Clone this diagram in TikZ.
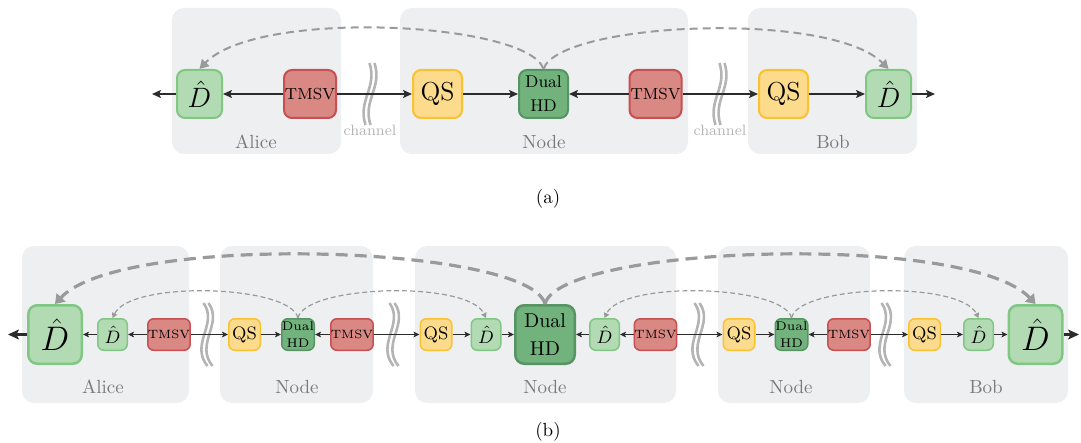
\RequirePackage{fix-cm}
\documentclass[tikz,border=0pt]{standalone}
\usepackage{tikz}
\usetikzlibrary{arrows.meta,calc}
\usepackage{xcolor}

\definecolor{panelbg}{HTML}{EEEFF1}
\definecolor{dhatfill}{HTML}{B2DBB4}
\definecolor{dhatline}{HTML}{7FC783}
\definecolor{hdfill}{HTML}{72B27C}
\definecolor{hdline}{HTML}{579463}
\definecolor{tmsvfill}{HTML}{D98883}
\definecolor{tmsvline}{HTML}{C65052}
\definecolor{qsfill}{HTML}{FDDB8C}
\definecolor{qsline}{HTML}{F9C233}
\definecolor{wiregray}{HTML}{2B2B2B}
\definecolor{classgray}{HTML}{9A9A9A}
\definecolor{labelgray}{HTML}{7A7A7A}
\definecolor{chgray}{HTML}{B4B4B4}

\begin{document}
\begin{tikzpicture}[x=0.5pt,y=-0.5pt,
    % boxes, row (a)
    dhat/.style={rounded corners=4pt, line width=1pt, inner sep=0pt, fill=dhatfill, draw=dhatline,
        minimum width=22.5pt, minimum height=24pt, font=\fontsize{14}{16}\selectfont},
    hd/.style={rounded corners=4pt, line width=1pt, inner sep=0pt, fill=hdfill, draw=hdline,
        minimum width=24.5pt, minimum height=24pt, align=center, font=\fontsize{8.5}{12}\selectfont},
    tmsv/.style={rounded corners=4pt, line width=1pt, inner sep=0pt, fill=tmsvfill, draw=tmsvline,
        minimum width=26pt, minimum height=24pt, font=\fontsize{8}{10}\selectfont},
    qs/.style={rounded corners=4pt, line width=1pt, inner sep=0pt, fill=qsfill, draw=qsline,
        minimum width=24.5pt, minimum height=24pt, font=\fontsize{13}{15}\selectfont},
    % boxes, row (b)
    sdhat/.style={dhat, rounded corners=3pt, line width=0.75pt, minimum width=14.75pt,
        minimum height=15.75pt, font=\fontsize{9}{10}\selectfont},
    shd/.style={hd, rounded corners=3pt, line width=0.75pt, minimum width=16.25pt,
        minimum height=15.75pt, font=\fontsize{6.3}{8.5}\selectfont},
    stmsv/.style={tmsv, rounded corners=3pt, line width=0.75pt, minimum width=17.25pt,
        minimum height=15.75pt, font=\fontsize{6}{7}\selectfont},
    sqs/.style={qs, rounded corners=3pt, line width=0.75pt, minimum width=15.75pt,
        minimum height=15.75pt, font=\fontsize{9}{10}\selectfont},
    bdhat/.style={dhat, rounded corners=4.5pt, line width=1.25pt, minimum width=26.75pt,
        minimum height=29.25pt, font=\fontsize{17}{19}\selectfont},
    bhd/.style={hd, rounded corners=4.5pt, line width=1.25pt, minimum width=29.75pt,
        minimum height=29.25pt, font=\fontsize{10}{14}\selectfont},
    % connectors
    wire/.style={draw=wiregray, line width=1pt, -{Stealth[length=4.5pt,width=4pt,inset=1pt]}},
    swire/.style={draw=wiregray, line width=0.6pt, -{Stealth[length=3pt,width=2.8pt,inset=0.7pt]}},
    ewire/.style={draw=wiregray, line width=1.4pt, -{Stealth[length=5.5pt,width=5pt,inset=1.3pt]}},
    cl/.style={draw=classgray, line width=1pt, dash pattern=on 4pt off 2.5pt,
        -{Triangle[length=4.5pt,width=5pt]}},
    bcl/.style={draw=classgray, line width=1.6pt, dash pattern=on 6pt off 3.5pt,
        -{Triangle[length=4.5pt,width=6pt]}},
    scl/.style={draw=classgray, line width=0.6pt, dash pattern=on 2.5pt off 1.5pt,
        -{Triangle[length=2.5pt,width=2.8pt]}},
    wave/.style={draw=chgray, line width=1.3pt},
    plabel/.style={text=labelgray, font=\fontsize{9.5}{11}\selectfont},
    caption/.style={font=\fontsize{9.5}{11}\selectfont}]

\useasboundingbox (0,0) rectangle (1081,443);

% ---------------- (a) ----------------
% panels
\fill[panelbg, rounded corners=6pt] (172,8) rectangle (341,154);
\fill[panelbg, rounded corners=6pt] (400,8) rectangle (688,154);
\fill[panelbg, rounded corners=6pt] (748,8) rectangle (917,154);
\node[plabel] (lblA) at (256,142) {Alice};
\node[plabel] (lblN) at (544,142) {Node};
\node[plabel] (lblB) at (833,142) {Bob};

% channels
\foreach \cx in {370,720} {
    \foreach \d in {-2.5,2.5}
        \draw[wave] (\cx+\d+2,63) .. controls (\cx+\d+10,88) and (\cx+\d-10,100) .. (\cx+\d-2,125);
}
\node[text=chgray, font=\fontsize{7.5}{9}\selectfont] (chA) at (370,130) {channel};
\node[text=chgray, font=\fontsize{7.5}{9}\selectfont] (chB) at (720,130) {channel};

% devices
\node[dhat] (dA) at (199.5,94) {$\hat{D}$};
\node[tmsv] (tA) at (310,94) {TMSV};
\node[qs] (qN) at (437.5,94) {QS};
\node[hd] (hN) at (543.5,94) {Dual\\HD};
\node[tmsv] (tN) at (655.5,94) {TMSV};
\node[qs] (qB) at (783.5,94) {QS};
\node[dhat] (dB) at (888.5,94) {$\hat{D}$};
\coordinate (eL) at (152,94);
\coordinate (eR) at (935,94);

\draw[wire] (tA) -- (dA);
\draw[wire] (dA) -- (eL);
\draw[wire] (tA) -- (qN);
\draw[wire] (qN) -- (hN);
\draw[wire] (tN) -- (hN);
\draw[wire] (tN) -- (qB);
\draw[wire] (qB) -- (dB);
\draw[wire] (dB) -- (eR);

% classical communication
\draw[cl] (hN.north) .. controls (528,22) and (258,8) .. (dA.north);
\draw[cl] (hN.north) .. controls (559,22) and (830,10) .. (dB.north);

\node[caption] (capA) at (548,199) {(a)};

% ---------------- (b) ----------------
% panels
\fill[panelbg, rounded corners=6pt] (22,246) rectangle (189,403);
\fill[panelbg, rounded corners=6pt] (220,246) rectangle (373,403);
\fill[panelbg, rounded corners=6pt] (415,246) rectangle (676,403);
\fill[panelbg, rounded corners=6pt] (718,246) rectangle (870,403);
\fill[panelbg, rounded corners=6pt] (904,246) rectangle (1068,403);
\node[plabel] (lbl1) at (103,387) {Alice};
\node[plabel] (lbl2) at (297,387) {Node};
\node[plabel] (lbl3) at (545,387) {Node};
\node[plabel] (lbl4) at (791,387) {Node};
\node[plabel] (lbl5) at (986,387) {Bob};

% channels
\foreach \cx in {207,393,698,885} {
    \foreach \d in {-2.5,2.5}
        \draw[wave] (\cx+\d-1,303) .. controls (\cx+\d+14,324) and (\cx+\d-15,344) .. (\cx+\d+3,366);
}

% devices
\node[bdhat] (bdA) at (55,334.5) {$\hat{D}$};
\node[sdhat] (sdA) at (112.5,334.5) {$\hat{D}$};
\node[stmsv] (stA) at (169,334.5) {TMSV};
\node[sqs] (sq1) at (244.5,334.5) {QS};
\node[shd] (sh1) at (298,334.5) {Dual\\HD};
\node[stmsv] (st1) at (352,334.5) {TMSV};
\node[sqs] (sq2) at (436,334.5) {QS};
\node[sdhat] (sd2) at (486,334.5) {$\hat{D}$};
\node[bhd] (bh2) at (545,334.5) {Dual\\HD};
\node[sdhat] (sd3) at (604.5,334.5) {$\hat{D}$};
\node[stmsv] (st3) at (655.5,334.5) {TMSV};
\node[sqs] (sq4) at (739,334.5) {QS};
\node[shd] (sh4) at (791.5,334.5) {Dual\\HD};
\node[stmsv] (st4) at (849,334.5) {TMSV};
\node[sqs] (sqB) at (924.5,334.5) {QS};
\node[sdhat] (sdB) at (978.5,334.5) {$\hat{D}$};
\node[bdhat] (bdB) at (1035.5,334.5) {$\hat{D}$};
\coordinate (fL) at (8,334.5);
\coordinate (fR) at (1079,334.5);

\draw[swire] (stA) -- (sdA);
\draw[swire] (sdA) -- (bdA);
\draw[ewire] (bdA) -- (fL);
\draw[swire] (stA) -- (sq1);
\draw[swire] (sq1) -- (sh1);
\draw[swire] (st1) -- (sh1);
\draw[swire] (st1) -- (sq2);
\draw[swire] (sq2) -- (sd2);
\draw[swire] (sd2) -- (bh2);
\draw[swire] (sd3) -- (bh2);
\draw[swire] (st3) -- (sd3);
\draw[swire] (st3) -- (sq4);
\draw[swire] (sq4) -- (sh4);
\draw[swire] (st4) -- (sh4);
\draw[swire] (st4) -- (sqB);
\draw[swire] (sqB) -- (sdB);
\draw[swire] (sdB) -- (bdB);
\draw[ewire] (bdB) -- (fR);

% classical communication
\draw[scl] (sh1.north) .. controls (291,285) and (131,280) .. (sdA.north);
\draw[scl] (sh1.north) .. controls (305,285) and (468,280) .. (sd2.north);
\draw[scl] (sh4.north) .. controls (784,285) and (622,280) .. (sd3.north);
\draw[scl] (sh4.north) .. controls (798,285) and (960,280) .. (sdB.north);
\draw[bcl] (bh2.north) .. controls (530,245) and (122,232) .. (bdA.north);
\draw[bcl] (bh2.north) .. controls (560,245) and (968,232) .. (bdB.north);

\node[caption] (capB) at (548,432) {(b)};
\end{tikzpicture}
\end{document}
